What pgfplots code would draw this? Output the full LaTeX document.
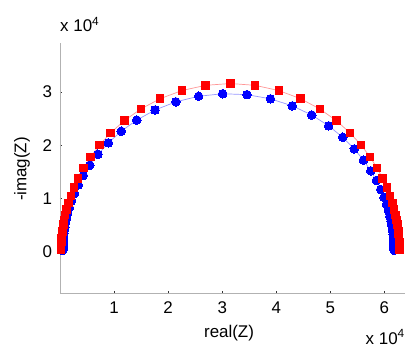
\documentclass[border=0pt]{standalone}
\usepackage{pgfplots}
\pgfplotsset{compat=1.18}
\usepackage{fontspec}
\setmainfont{Liberation Sans}

\definecolor{ptred}{rgb}{1,0,0}
\definecolor{ptblue}{rgb}{0,0,1}
\definecolor{lnred}{RGB}{255,150,150}
\definecolor{lnblue}{RGB}{150,150,255}

% Nyquist data, real and -imag parts in units of 1e4 ohm
\pgfplotstableread{
re im
0.020 0.032
0.020 0.037
0.020 0.043
0.020 0.049
0.021 0.057
0.021 0.066
0.021 0.077
0.021 0.089
0.022 0.103
0.022 0.119
0.023 0.138
0.024 0.160
0.025 0.185
0.027 0.215
0.030 0.249
0.033 0.288
0.038 0.333
0.043 0.386
0.051 0.446
0.062 0.516
0.076 0.596
0.095 0.688
0.121 0.794
0.154 0.915
0.199 1.052
0.257 1.207
0.334 1.380
0.435 1.572
0.564 1.780
0.729 2.003
0.936 2.233
1.190 2.464
1.496 2.683
1.853 2.876
2.255 3.028
2.693 3.126
3.150 3.160
3.607 3.126
4.045 3.028
4.447 2.876
4.804 2.683
5.110 2.464
5.364 2.233
5.571 2.003
5.736 1.780
5.865 1.572
5.966 1.380
6.043 1.207
6.101 1.052
6.146 0.915
6.180 0.794
6.205 0.688
6.224 0.596
6.238 0.516
6.249 0.446
6.257 0.386
6.262 0.333
6.267 0.288
6.270 0.249
6.273 0.215
6.275 0.185
6.276 0.160
6.277 0.138
6.278 0.119
6.278 0.103
6.279 0.089
6.279 0.077
6.279 0.066
6.279 0.057
6.280 0.049
6.280 0.043
6.280 0.037
6.280 0.032
}\redZ

\pgfplotstableread{
re im
0.050 0.029
0.050 0.034
0.050 0.039
0.050 0.045
0.051 0.052
0.051 0.060
0.051 0.070
0.051 0.081
0.052 0.094
0.052 0.108
0.053 0.126
0.054 0.146
0.055 0.168
0.057 0.195
0.059 0.226
0.062 0.261
0.066 0.302
0.072 0.350
0.079 0.405
0.088 0.468
0.101 0.541
0.119 0.625
0.142 0.721
0.173 0.832
0.213 0.957
0.267 1.098
0.338 1.257
0.430 1.433
0.550 1.625
0.702 1.832
0.894 2.047
1.132 2.265
1.419 2.474
1.757 2.663
2.142 2.816
2.563 2.921
3.008 2.968
3.457 2.951
3.891 2.873
4.295 2.741
4.656 2.568
4.968 2.366
5.228 2.151
5.442 1.933
5.612 1.722
5.747 1.522
5.851 1.338
5.931 1.172
5.993 1.022
6.039 0.889
6.075 0.772
6.101 0.669
6.121 0.580
6.136 0.502
6.147 0.434
6.156 0.375
6.162 0.324
6.166 0.280
6.170 0.242
6.172 0.209
6.175 0.181
6.176 0.156
6.177 0.135
6.177 0.116
6.178 0.100
6.179 0.087
6.179 0.075
6.179 0.064
6.179 0.056
6.180 0.048
6.180 0.042
6.180 0.036
6.180 0.031
}\blueZ

\begin{document}
\fontsize{17}{20}\selectfont
\begin{tikzpicture}
\path[use as bounding box] (-60bp,-54bp) rectangle (345bp,293bp);
\begin{axis}[
  scale only axis,
  width=345bp, height=250bp,
  xmin=0, xmax=6.38, ymin=-0.77, ymax=3.92,
  axis x line=bottom, axis y line=left,
  axis line style={draw=black!30, line width=0.8bp, -},
  xtick={1,2,3,4,5,6}, ytick={0,1,2,3},
  tick align=inside,
  major tick length=2bp,
  tick style={black!80, line width=0.8bp},
  /pgf/number format/assume math mode=true,
  tick label style={font=\fontsize{17}{20}\selectfont},
  xticklabel style={yshift=-3bp},
  yticklabel style={xshift=-2bp},
  clip=false,
]
\addplot[color=lnblue, line width=0.7bp, mark=*, mark size=4.3bp,
  mark options={draw=ptblue, fill=ptblue, line width=0bp}] table[x=re, y=im] {\blueZ};
\addplot[color=lnred, line width=0.7bp, mark=square*, mark size=3.7bp,
  mark options={draw=ptred, fill=ptred, line width=0bp, rounded corners=1.8bp}] table[x=re, y=im] {\redZ};

\node[anchor=center] at (rel axis cs:0.49,0) [yshift=-40bp] {real(Z)};
\node at (rel axis cs:0,0.496) [xshift=-38bp, rotate=90, anchor=center] {-imag(Z)};
\node[anchor=base west, inner sep=0pt] at (rel axis cs:0,1) [yshift=11bp] {x 10\textsuperscript{4}};
\node[anchor=base east, inner sep=0pt] at (rel axis cs:1,0) [yshift=-51bp] {x 10\textsuperscript{4}};
\end{axis}
\end{tikzpicture}
\end{document}
